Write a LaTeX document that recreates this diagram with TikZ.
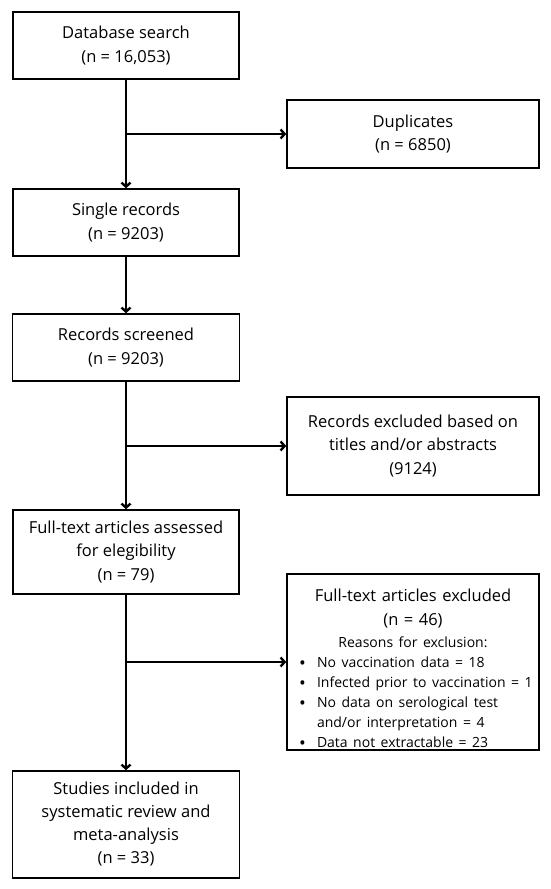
\documentclass[tikz,border=0pt]{standalone}
\usepackage{fontspec}
\setmainfont{Open Sans}
\usetikzlibrary{arrows.meta}
\newcommand\bitem[1]{\hangindent=28pt\hangafter=1\noindent\makebox[28pt][l]{\hspace{10pt}\raisebox{-1.5pt}{\fontsize{18}{18}\selectfont\textbullet}}#1\par}
\begin{document}
\begin{tikzpicture}[x=1pt,y=-1pt,
  box/.style={draw,line width=1.6pt,inner sep=0pt,align=center,
    font=\fontsize{16.5}{23.5}\selectfont},
  conn/.style={line width=2.4pt,-{Straight Barb[length=4pt,width=9pt]}}]
\useasboundingbox (0,0) rectangle (550,889);
\node[box,minimum width=226,minimum height=67] (db) at (126,45.5) {Database search\\(n = 16,053)};
\node[box,minimum width=252,minimum height=68] (dup) at (413,134) {Duplicates\\(n = 6850)};
\node[box,minimum width=226,minimum height=67] (single) at (126,222.5) {Single records\\(n = 9203)};
\node[box,minimum width=227,minimum height=67] (scr) at (126,347.5) {Records screened\\(n = 9203)};
\node[box,minimum width=252,minimum height=98] (exc) at (413,446) {Records excluded based on\\titles and/or abstracts\\(9124)};
\node[box,minimum width=226,minimum height=84] (full) at (126,552) {Full-text articles assessed\\for elegibility\\(n = 79)};
\node[draw,line width=1.6pt,inner ysep=0pt,inner xsep=2pt,text width=248pt,minimum height=176,
  font=\fontsize{16.5}{24.5}\selectfont] (ftx) at (413,662) {%
  \parindent=0pt%
  {\centering\rule{0pt}{26pt}Full-text articles excluded\\(n = 46)\par}
  \vspace{2pt}
  {\centering\fontsize{14}{20}\selectfont Reasons for exclusion:\par}
  {\fontsize{14}{20}\selectfont\raggedright
  \bitem{No vaccination data = 18}
  \bitem{Infected prior to vaccination = 1}
  \bitem{No data on serological test\newline and/or interpretation = 4}
  \bitem{Data not extractable = 23}}};
\node[box,minimum width=227,minimum height=107,font=\fontsize{16.5}{23}\selectfont] (inc) at (126,824.5) {Studies included in\\systematic review and\\meta-analysis\\(n = 33)};
\draw[conn] (db.south) -- (single.north);
\draw[conn] (db.south |- dup.west) -- (dup.west);
\draw[conn] (single.south) -- (scr.north);
\draw[conn] (scr.south) -- (full.north);
\draw[conn] (scr.south |- exc.west) -- (exc.west);
\draw[conn] (full.south) -- (inc.north);
\draw[conn] (full.south |- ftx.west) -- (ftx.west);
\end{tikzpicture}
\end{document}
